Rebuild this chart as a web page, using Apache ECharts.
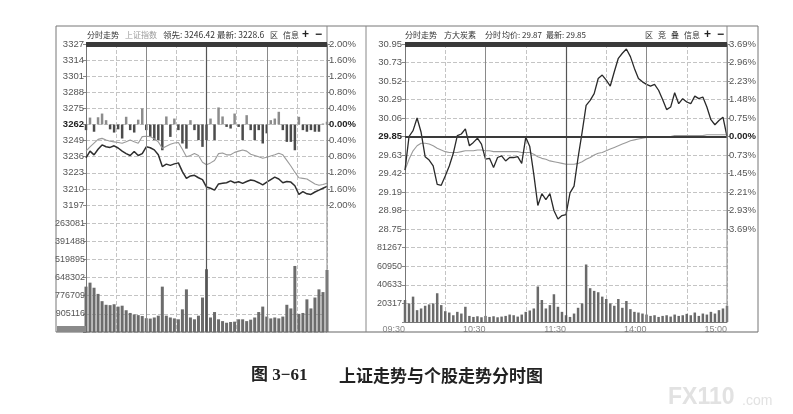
<!DOCTYPE html>
<html>
<head>
<meta charset="utf-8">
<title>图3-61 上证走势与个股走势分时图</title>
<script src="https://cdn.jsdelivr.net/npm/echarts/dist/echarts.min.js"></script>
<style>
html,body{margin:0;padding:0;background:#fff;}
#chart{width:793px;height:414px;}
</style>
</head>
<body>
<div id="chart"></div>
<script>
"use strict";

/*****Data start*****/
// 上证指数, one value every 4 minutes (09:30 -> 15:00)
var indexPrice = [3235.0,3240.5,3237.5,3242.0,3245.5,3244.0,3243.5,3244.8,3243.0,3240.5,
	3238.5,3237.0,3240.2,3237.0,3238.5,3244.0,3243.2,3241.5,3237.5,3228.0,
	3230.0,3229.0,3230.2,3231.0,3224.0,3218.5,3220.5,3221.0,3219.0,3217.5,
	3211.5,3210.5,3209.0,3214.0,3214.5,3215.0,3216.5,3215.0,3215.8,3214.5,
	3216.0,3217.2,3216.5,3215.0,3213.2,3215.5,3217.5,3219.5,3218.0,3215.0,
	3216.0,3215.5,3212.5,3205.5,3207.8,3206.0,3205.5,3207.5,3209.0,3210.5,
	3212.0];
var indexLead = [3240.5,3244.0,3247.0,3250.0,3250.8,3249.5,3248.5,3248.0,3247.5,3246.8,
	3248.0,3249.5,3248.0,3246.8,3252.2,3252.5,3252.2,3250.5,3248.0,3242.8,
	3244.5,3246.0,3247.0,3247.5,3242.0,3236.0,3237.0,3238.5,3237.0,3231.5,
	3229.5,3231.0,3233.0,3238.5,3239.0,3237.5,3237.5,3239.5,3240.5,3241.4,
	3240.5,3238.0,3237.0,3236.0,3234.7,3235.5,3236.5,3237.5,3238.7,3237.5,
	3233.0,3228.5,3223.5,3219.0,3218.5,3218.0,3216.0,3214.0,3213.0,3213.5,
	3214.5];
var indexLeadBars = [-0.35,0.43,-0.45,0.45,0.68,0.27,-0.3,-0.5,-0.3,-0.87,
	0.48,-0.35,-0.5,0.3,1.0,-0.35,-0.77,-0.97,-0.97,-1.6,
	0.5,-0.77,0.37,-0.35,-1.18,-1.5,0.27,-0.35,-0.97,-1.39,
	-0.97,0.37,-0.97,1.06,0.5,-0.15,-0.25,0.68,-0.15,-0.97,
	0.58,-0.35,-0.97,-0.35,-1.18,-0.55,0.27,0.37,0.79,-0.35,
	-1.08,-1.08,-1.6,0.48,-0.35,-0.45,-0.35,-0.45,-0.45,0.06,
	0.17];
var indexVolume = [2.5,2.72,2.44,2.1,1.7,1.5,1.48,1.53,1.4,1.45,
	1.2,1.05,0.97,0.93,0.88,0.76,0.74,0.8,0.9,2.5,
	0.9,0.8,0.75,0.7,1.25,2.35,0.8,0.7,0.9,1.9,
	3.46,0.8,1.1,0.7,0.6,0.51,0.55,0.57,0.7,0.7,
	0.6,0.68,0.8,1.1,1.4,0.85,0.75,0.8,0.75,0.85,
	1.5,1.3,3.64,1.0,1.05,1.8,1.3,1.9,2.35,2.2,
	3.42];
var indexVolLabels = ['','905116','776709','648302','519895','391488','263081',''];

// 方大炭素, one value every 3 minutes
var stockPrice = [29.45,29.85,29.92,30.07,29.90,29.61,29.57,29.50,29.28,29.27,
	29.38,29.50,29.65,29.86,29.88,29.94,29.74,29.78,29.83,29.76,
	29.58,29.59,29.48,29.60,29.62,29.56,29.60,29.60,29.61,29.53,
	29.84,29.73,29.40,29.03,29.17,29.10,29.17,28.97,28.87,28.91,
	28.92,29.18,29.26,29.60,29.90,30.22,30.28,30.36,30.54,30.58,
	30.52,30.45,30.62,30.78,30.84,30.89,30.80,30.66,30.54,30.50,
	30.47,30.45,30.47,30.40,30.29,30.17,30.20,30.37,30.24,30.30,
	30.26,30.24,30.33,30.30,30.32,30.20,30.05,29.99,30.04,30.08,
	29.85];
var stockAvg = [29.45,29.58,29.68,29.74,29.77,29.77,29.76,29.74,29.71,29.69,
	29.67,29.66,29.66,29.66,29.67,29.68,29.68,29.68,29.69,29.69,
	29.68,29.68,29.67,29.67,29.67,29.67,29.67,29.67,29.67,29.66,
	29.66,29.66,29.64,29.61,29.59,29.58,29.56,29.55,29.54,29.53,
	29.52,29.52,29.52,29.53,29.55,29.58,29.60,29.63,29.65,29.66,
	29.68,29.70,29.72,29.74,29.76,29.78,29.80,29.81,29.82,29.83,
	29.84,29.84,29.85,29.85,29.85,29.85,29.85,29.86,29.86,29.86,
	29.86,29.86,29.86,29.86,29.86,29.87,29.87,29.87,29.87,29.87,
	29.87];
var stockVolume = [24018,20323,27713,12933,14780,17736,19214,20323,31408,18475,
	11824,10346,7390,11085,9238,16628,6651,5543,6282,5173,
	6651,5543,6282,5173,5912,6651,8129,7390,5912,8129,
	11085,12563,14780,38798,24018,14780,18475,30299,16628,11085,
	7390,5543,9238,15519,20323,62815,36950,33994,32516,27713,
	25126,20323,17736,25126,15519,22909,14041,11085,10346,9238,
	8129,6651,7390,5543,6651,7390,5912,8129,6651,7390,
	8868,7390,10346,6651,9238,8129,11085,9238,12933,14780,
	17736];
var stockPriceLabels = ['28.75','28.98','29.19','29.42','29.63','29.85','30.06','30.29','30.52','30.73','30.95'];
var stockPctLabels = ['3.69%','2.93%','2.21%','1.45%','0.73%','0.00%','0.75%','1.48%','2.23%','2.96%','3.69%'];
var stockVolLabels = ['','20317','40633','60950','81267',''];
var timeLabels = ['09:30','10:30','11:30','14:00','15:00'];
/*****Data end*****/

var FONT_NUM = 'Arial, "Liberation Sans", sans-serif';
var FONT_CJK = '"Noto Sans CJK SC", sans-serif';

function pairs(arr, step) {
	return arr.map(function (v, i) { return [i * step, v]; });
}

function xAxisOf(g, labels) {
	return {
		type: 'value', gridIndex: g, min: 0, max: 240, interval: 30,
		axisLine: {show: labels, lineStyle: {color: '#777'}},
		axisTick: {show: false},
		axisLabel: {
			show: labels, fontSize: 9, color: '#888', fontFamily: FONT_NUM,
			align: 'right', margin: 3, showMinLabel: true, showMaxLabel: true,
			formatter: function (v) { return v % 60 === 0 ? timeLabels[v / 60] : ''; }
		},
		splitLine: {show: true, lineStyle: {color: '#c4c4c4', type: 'dashed', width: 1}}
	};
}

function hourLines() {
	return {
		silent: true, symbol: ['none', 'none'], label: {show: false},
		lineStyle: {color: '#8a8a8a', type: 'solid', width: 1},
		data: [{xAxis: 60}, {xAxis: 120, lineStyle: {color: '#555', width: 1.2}}, {xAxis: 180}]
	};
}

// header text helper
function head(x, text, opt) {
	opt = opt || {};
	return {
		type: 'text', x: x, y: 35, z: 50,
		style: {
			text: text, fill: opt.fill || '#333', verticalAlign: 'middle',
			font: opt.font || ('8px ' + FONT_CJK)
		}
	};
}

var boldRich = {b: {fontWeight: 'bold', fontSize: 9.5, color: '#222', fontFamily: FONT_NUM}};

/*****E-Charts function start*****/
var echartsConfig = function () {
	var chart = echarts.init(document.getElementById('chart'));
	var leftAxisLine = {show: true, lineStyle: {color: '#777'}};
	var tick = {show: true, length: 3, lineStyle: {color: '#888'}};
	var dashed = {show: true, lineStyle: {color: '#c4c4c4', type: 'dashed', width: 1}};
	var labelBase = {fontSize: 9.5, color: '#555', fontFamily: FONT_NUM, margin: 2};

	var priceMarks = hourLines();
	priceMarks.data.push({yAxis: 29.85, lineStyle: {color: '#3a3a3a', width: 2.2, type: 'solid'}});

	var plusFont = 'bold 12px ' + FONT_NUM;
	var numFont = '8.5px ' + FONT_CJK;
	var smallNumFont = '8px ' + FONT_CJK;

	var option = {
		animation: false,
		backgroundColor: '#fff',
		grid: [
			{left: 86, top: 44, width: 241, height: 161},
			{left: 86, top: 205, width: 241, height: 127},
			{left: 405, top: 44, width: 322, height: 185},
			{left: 405, top: 229, width: 322, height: 93}
		],
		xAxis: [xAxisOf(0, false), xAxisOf(1, false), xAxisOf(2, false), xAxisOf(3, true)],
		yAxis: [
			{
				type: 'value', gridIndex: 0, min: 3197, max: 3327, interval: 13, position: 'left',
				axisLine: leftAxisLine, axisTick: tick, splitLine: dashed,
				axisLabel: Object.assign({}, labelBase, {
					rich: boldRich,
					formatter: function (v) { return v === 3262 ? '{b|3262}' : String(v); }
				})
			},
			{
				type: 'value', gridIndex: 0, min: -2, max: 2, interval: 0.4, position: 'right',
				axisLine: leftAxisLine, axisTick: tick, splitLine: {show: false},
				axisLabel: Object.assign({}, labelBase, {
					rich: boldRich,
					formatter: function (v) {
						var t = Math.abs(v).toFixed(2) + '%';
						return Math.abs(v) < 0.01 ? '{b|' + t + '}' : t;
					}
				})
			},
			{type: 'value', gridIndex: 0, min: -5, max: 5, show: false},
			{
				type: 'value', gridIndex: 1, min: 0, max: 7, interval: 1, position: 'left',
				axisLine: leftAxisLine, axisTick: tick, splitLine: dashed,
				axisLabel: Object.assign({}, labelBase, {
					fontSize: 9, margin: 1,
					formatter: function (v) { return indexVolLabels[Math.round(v)] || ''; }
				})
			},
			{
				type: 'value', gridIndex: 2, min: 28.75, max: 30.95, interval: 0.22, position: 'left',
				axisLine: leftAxisLine, axisTick: tick, splitLine: dashed,
				axisLabel: Object.assign({}, labelBase, {
					margin: 3, rich: boldRich,
					formatter: function (v) {
						var i = Math.round((v - 28.75) / 0.22);
						return i === 5 ? '{b|' + stockPriceLabels[i] + '}' : stockPriceLabels[i];
					}
				})
			},
			{
				type: 'value', gridIndex: 2, min: 28.75, max: 30.95, interval: 0.22, position: 'right',
				axisLine: leftAxisLine, axisTick: tick, splitLine: {show: false},
				axisLabel: Object.assign({}, labelBase, {
					rich: boldRich,
					formatter: function (v) {
						var i = Math.round((v - 28.75) / 0.22);
						return i === 5 ? '{b|' + stockPctLabels[i] + '}' : stockPctLabels[i];
					}
				})
			},
			{
				type: 'value', gridIndex: 3, min: 0, max: 101585, interval: 20317, position: 'left',
				axisLine: leftAxisLine, axisTick: tick, splitLine: dashed,
				axisLabel: Object.assign({}, labelBase, {
					fontSize: 9, margin: 3,
					formatter: function (v) { return stockVolLabels[Math.round(v / 20317)] || ''; }
				})
			}
		],
		series: [
			{
				name: '领先柱', type: 'bar', xAxisIndex: 0, yAxisIndex: 2, barWidth: 2.5,
				data: pairs(indexLeadBars, 4),
				itemStyle: {color: function (p) { return p.value[1] >= 0 ? '#8c8c8c' : '#4c4c4c'; }},
				markLine: hourLines()
			},
			{
				name: '领先', type: 'line', xAxisIndex: 0, yAxisIndex: 0, data: pairs(indexLead, 4),
				showSymbol: false, symbol: 'none', lineStyle: {color: '#9a9a9a', width: 1.1}, z: 3
			},
			{
				name: '上证指数', type: 'line', xAxisIndex: 0, yAxisIndex: 0, data: pairs(indexPrice, 4),
				showSymbol: false, symbol: 'none', lineStyle: {color: '#2e2e2e', width: 1.5}, z: 4
			},
			{
				name: '成交量', type: 'bar', xAxisIndex: 1, yAxisIndex: 3, barWidth: 3,
				data: pairs(indexVolume, 4), itemStyle: {color: '#6c6c6c'},
				markLine: hourLines()
			},
			{
				name: '均价', type: 'line', xAxisIndex: 2, yAxisIndex: 4, data: pairs(stockAvg, 3),
				showSymbol: false, symbol: 'none', lineStyle: {color: '#9a9a9a', width: 1.1}, z: 3
			},
			{
				name: '方大炭素', type: 'line', xAxisIndex: 2, yAxisIndex: 4, data: pairs(stockPrice, 3),
				showSymbol: false, symbol: 'none', lineStyle: {color: '#2a2a2a', width: 1.3}, z: 4,
				markLine: priceMarks
			},
			{
				name: '个股成交量', type: 'bar', xAxisIndex: 3, yAxisIndex: 6, barWidth: 2.5,
				data: pairs(stockVolume, 3), itemStyle: {color: '#6a6a6a'},
				markLine: hourLines()
			}
		],
		graphic: [
			// frames
			{type: 'line', shape: {x1: 56, y1: 26, x2: 758, y2: 26}, style: {stroke: '#777', lineWidth: 1}, z: 50},
			{type: 'line', shape: {x1: 56, y1: 26, x2: 56, y2: 332}, style: {stroke: '#777', lineWidth: 1}, z: 50},
			{type: 'line', shape: {x1: 56, y1: 332, x2: 758, y2: 332}, style: {stroke: '#666', lineWidth: 1.2}, z: 50},
			{type: 'line', shape: {x1: 366, y1: 26, x2: 366, y2: 332}, style: {stroke: '#888', lineWidth: 1}, z: 50},
			{type: 'line', shape: {x1: 758, y1: 26, x2: 758, y2: 332}, style: {stroke: '#777', lineWidth: 1}, z: 50},
			{type: 'line', shape: {x1: 327, y1: 26, x2: 327, y2: 332}, style: {stroke: '#888', lineWidth: 1}, z: 50},
			{type: 'line', shape: {x1: 727, y1: 26, x2: 727, y2: 322}, style: {stroke: '#888', lineWidth: 1}, z: 50},
			{type: 'rect', shape: {x: 57, y: 326, width: 29, height: 6}, style: {fill: '#8a8a8a'}, z: 50},
			// header bars
			{type: 'rect', shape: {x: 86, y: 42, width: 241, height: 5}, style: {fill: '#3a3a3a'}, z: 50},
			{type: 'rect', shape: {x: 405, y: 42, width: 322, height: 5}, style: {fill: '#3a3a3a'}, z: 50},
			// left header
			head(87, '分时走势'),
			head(125, '上证指数', {fill: '#9a9a9a'}),
			head(163, '领先: 3246.42', {font: numFont}),
			head(217, '最新: 3228.6', {font: numFont}),
			head(270, '区'),
			head(283, '信息'),
			head(302, '+', {font: plusFont, fill: '#222'}),
			head(315, '−', {font: plusFont, fill: '#222'}),
			// right header
			head(405, '分时走势'),
			head(444, '方大炭素'),
			head(485, '分时'),
			head(502, '均价: 29.87', {font: smallNumFont}),
			head(546, '最新: 29.85', {font: smallNumFont}),
			head(645, '区'),
			head(658, '竞'),
			head(671, '叠'),
			head(684, '信息'),
			head(704, '+', {font: plusFont, fill: '#222'}),
			head(717, '−', {font: plusFont, fill: '#222'}),
			// caption
			{type: 'text', x: 251, y: 376, style: {text: '图 3−61', fill: '#222', font: 'bold 17px "Liberation Serif", ' + FONT_CJK, verticalAlign: 'middle'}, z: 50},
			{type: 'text', x: 339, y: 376, style: {text: '上证走势与个股走势分时图', fill: '#222', font: 'bold 17px ' + FONT_CJK, verticalAlign: 'middle'}, z: 50},
			// watermark
			{type: 'text', x: 668, y: 398, style: {text: 'FX110', fill: '#e2e2e2', font: 'bold 23px ' + FONT_NUM, verticalAlign: 'middle'}, z: 50},
			{type: 'text', x: 742, y: 401, style: {text: '.com', fill: '#e2e2e2', font: '14px ' + FONT_NUM, verticalAlign: 'middle'}, z: 50}
		]
	};
	chart.setOption(option);
};
/*****E-Charts function end*****/

echartsConfig();
</script>
</body>
</html>
